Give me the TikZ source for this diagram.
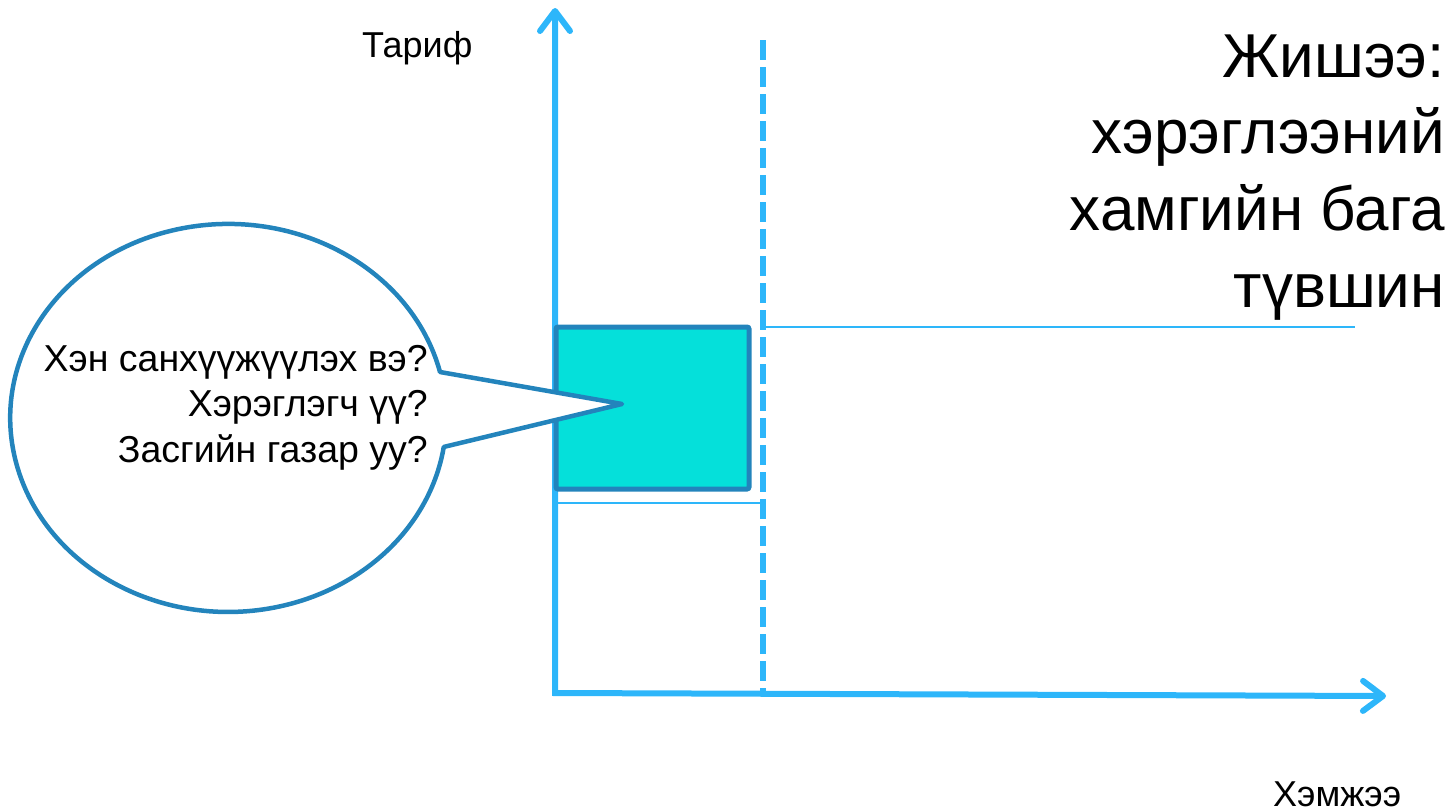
\documentclass[tikz,border=0pt]{standalone}
\usepackage{fontspec}
\setmainfont{Liberation Sans}
\usetikzlibrary{arrows.meta}
\definecolor{axisblue}{RGB}{45,182,250}
\definecolor{darkblue}{RGB}{35,132,188}
\definecolor{boxfill}{RGB}{5,224,218}
\tikzset{
  axisline/.style={draw=axisblue, line width=6pt, line join=miter,
    {Straight Barb[round,length=20pt,width=30pt]}-{Straight Barb[round,length=20pt,width=30pt]}},
  dashline/.style={draw=axisblue, line width=6pt, dash pattern=on 20pt off 7pt},
  guide/.style={draw=axisblue, line width=2pt},
  areabox/.style={draw=darkblue, fill=boxfill, line width=5pt, rounded corners=2pt,
    minimum width=193pt, minimum height=162pt, inner sep=0pt},
  callout/.style={draw=darkblue, fill=white, line width=4.5pt, line join=round},
  small/.style={inner sep=0pt, font=\fontsize{36}{42}\selectfont},
  qtext/.style={inner sep=0pt, anchor=base east, font=\fontsize{37.5}{45}\selectfont},
  big/.style={inner sep=0pt, anchor=base east, font=\fontsize{62}{70}\selectfont},
}
\begin{document}
\begin{tikzpicture}[x=1pt,y=-1pt]
\useasboundingbox (0,0) rectangle (1454,811);
% axes
\coordinate (O) at (555,693);
\coordinate (ytip) at (555,8);
\coordinate (xtip) at (1386,696);
\draw[axisline] (ytip) -- (O) -- (xtip);
% dashed vertical
\coordinate (dtop) at (763,40);
\coordinate (dbot) at (763,693);
\draw[dashline] (dtop) -- (dbot);
% guide lines
\coordinate (g1a) at (765,327);
\coordinate (g1b) at (1355,327);
\draw[guide] (g1a) -- (g1b);
\coordinate (g2a) at (557,503);
\coordinate (g2b) at (763,503);
\draw[guide] (g2a) -- (g2b);
% box
\node[areabox] (box) at (652.5,408) {};
% callout
\coordinate (cu) at (440,372);
\coordinate (ctip) at (622,404);
\draw[callout] (cu) arc[start angle=13.7, end angle=351.4, x radius=218pt, y radius=194pt] -- (ctip) -- cycle;
% callout text
\node[qtext] (q1) at (428,371) {Хэн санхүүжүүлэх вэ?};
\node[qtext] (q2) at (428,416.5) {Хэрэглэгч үү?};
\node[qtext] (q3) at (428,462) {Засгийн газар уу?};
% axis labels
\node[small, anchor=base west] (ylab) at (362,57) {Тариф};
\node[small, anchor=base west] (xlab) at (1273,806) {Хэмжээ};
% title
\node[big] (t1) at (1445,77) {Жишээ:};
\node[big] (t2) at (1445,153.5) {хэрэглээний};
\node[big] (t3) at (1445,230) {хамгийн бага};
\node[big] (t4) at (1445,307) {түвшин};
\end{tikzpicture}
\end{document}
